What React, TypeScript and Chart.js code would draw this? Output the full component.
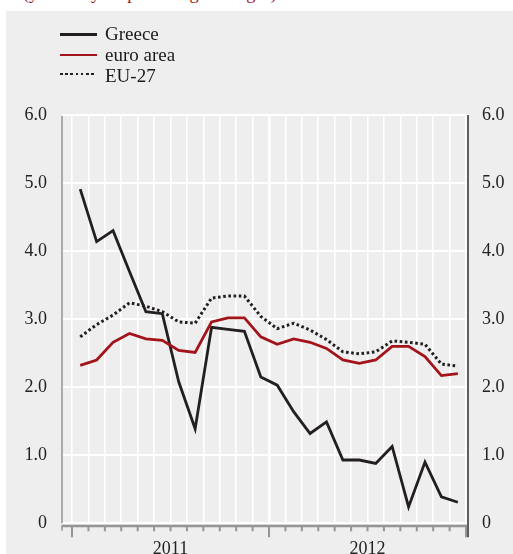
import React, { useEffect, useRef } from 'react';
import { Chart, registerables } from 'chart.js';

Chart.register(...registerables);

// Months Jan 2011 .. Dec 2012
const months = [
  'Jan 2011', 'Feb 2011', 'Mar 2011', 'Apr 2011', 'May 2011', 'Jun 2011',
  'Jul 2011', 'Aug 2011', 'Sep 2011', 'Oct 2011', 'Nov 2011', 'Dec 2011',
  'Jan 2012', 'Feb 2012', 'Mar 2012', 'Apr 2012', 'May 2012', 'Jun 2012',
  'Jul 2012', 'Aug 2012', 'Sep 2012', 'Oct 2012', 'Nov 2012', 'Dec 2012',
];
const greece = [
  4.91, 4.14, 4.3, 3.7, 3.11, 3.08, 2.08, 1.39, 2.88, 2.85, 2.82, 2.15,
  2.03, 1.64, 1.32, 1.49, 0.93, 0.93, 0.88, 1.13, 0.24, 0.9, 0.39, 0.31,
];
const euroArea = [
  2.32, 2.4, 2.66, 2.79, 2.71, 2.69, 2.54, 2.51, 2.96, 3.02, 3.02, 2.74,
  2.63, 2.71, 2.66, 2.57, 2.4, 2.35, 2.4, 2.6, 2.6, 2.45, 2.17, 2.2,
];
const eu27 = [
  2.74, 2.92, 3.06, 3.24, 3.19, 3.11, 2.96, 2.94, 3.31, 3.34, 3.34, 3.04,
  2.86, 2.94, 2.84, 2.7, 2.52, 2.49, 2.52, 2.68, 2.66, 2.63, 2.34, 2.31,
];
const years = ['2011', '2012'];
const yMin = 0;
const yMax = 6;

const FONT = '"Liberation Serif", "Times New Roman", serif';
const RED = '#a3141a';
const DARK = '#231f20';

const toPoints = (arr: number[]) => arr.map((v, i) => ({ x: i + 0.5, y: v }));

const yLabel = (v: number) => (v === 0 ? '0' : v.toFixed(1));

const axisDecor = {
  id: 'axisDecor',
  afterDraw(chart: any) {
    const { ctx, chartArea } = chart;
    const xs = chart.scales.x;
    const { left, right, top, bottom } = chartArea;
    ctx.save();
    // left axis
    ctx.strokeStyle = '#ababab';
    ctx.lineWidth = 2;
    ctx.beginPath();
    ctx.moveTo(left, top + 1);
    ctx.lineTo(left, bottom);
    ctx.moveTo(left, bottom + 2);
    ctx.lineTo(left, bottom + 7.5);
    ctx.stroke();
    // x axis line
    ctx.strokeStyle = '#959595';
    ctx.lineWidth = 2.5;
    ctx.beginPath();
    ctx.moveTo(left, bottom + 2.8);
    ctx.lineTo(right - 1, bottom + 2.8);
    ctx.stroke();
    // month ticks
    ctx.lineWidth = 2;
    for (let v = 0; v <= months.length; v++) {
      const px = xs.getPixelForValue(v);
      const long = v % 12 === 0;
      ctx.beginPath();
      ctx.moveTo(px, bottom + 2);
      ctx.lineTo(px, bottom + (long ? 14 : 8));
      ctx.stroke();
    }
    // right axis
    ctx.strokeStyle = '#3a3a3a';
    ctx.lineWidth = 1.6;
    ctx.beginPath();
    ctx.moveTo(right, top);
    ctx.lineTo(right, bottom + 14);
    ctx.stroke();
    ctx.restore();
  },
};

export default function App() {
  const ref = useRef<HTMLCanvasElement | null>(null);

  useEffect(() => {
    if (!ref.current) return;
    const tickValues = Array.from({ length: months.length + 1 }, (_, i) => i);
    const chart = new Chart(ref.current, {
      type: 'line',
      data: {
        datasets: [
          {
            label: 'EU-27',
            data: toPoints(eu27),
            borderColor: DARK,
            borderWidth: 3,
            borderDash: [2.6, 2.6],
            pointRadius: 0,
            tension: 0,
          },
          {
            label: 'euro area',
            data: toPoints(euroArea),
            borderColor: RED,
            borderWidth: 2.8,
            pointRadius: 0,
            tension: 0,
          },
          {
            label: 'Greece',
            data: toPoints(greece),
            borderColor: DARK,
            borderWidth: 2.8,
            pointRadius: 0,
            tension: 0,
          },
        ],
      },
      plugins: [axisDecor],
      options: {
        animation: false,
        responsive: false,
        events: [],
        layout: { padding: { top: 115, left: 0, right: 0, bottom: 0 } },
        plugins: {
          legend: { display: false },
          tooltip: { enabled: false },
          title: { display: false },
        },
        scales: {
          x: {
            type: 'linear',
            min: -0.61,
            max: 24.12,
            afterFit: (s: any) => {
              s.height = 30.7;
            },
            afterBuildTicks: (s: any) => {
              s.ticks = tickValues.map((v) => ({ value: v }));
            },
            grid: {
              color: '#ffffff',
              lineWidth: (c: any) => (c.tick && c.tick.value === 12 ? 2.6 : 1.6),
              drawTicks: false,
            },
            border: { display: false },
            ticks: {
              autoSkip: false,
              maxRotation: 0,
              padding: 15,
              color: '#222',
              font: { family: FONT, size: 18 },
              callback: (v: any) => {
                const n = Number(v);
                if (n % 12 === 6) return years[(n - 6) / 12] ?? '';
                return '';
              },
            },
          },
          y: {
            position: 'left',
            min: yMin,
            max: yMax,
            afterFit: (s: any) => {
              s.width = 62;
            },
            grid: { color: '#ffffff', lineWidth: 2, drawTicks: false },
            border: { display: false },
            ticks: {
              stepSize: 1,
              padding: 15,
              color: '#222',
              font: { family: FONT, size: 18 },
              callback: (v: any) => yLabel(Number(v)),
            },
          },
          y2: {
            position: 'right',
            min: yMin,
            max: yMax,
            afterFit: (s: any) => {
              s.width = 45;
            },
            grid: { display: false, drawTicks: false },
            border: { display: false },
            ticks: {
              stepSize: 1,
              padding: 14,
              color: '#222',
              font: { family: FONT, size: 18 },
              callback: (v: any) => yLabel(Number(v)),
            },
          },
        },
      },
    });
    return () => chart.destroy();
  }, []);

  const legendText: React.CSSProperties = {
    position: 'absolute',
    left: 105,
    fontFamily: FONT,
    fontSize: 19,
    lineHeight: '19px',
    color: '#1a1a1a',
    whiteSpace: 'nowrap',
  };

  return (
    <div style={{ position: 'absolute', left: 0, top: 0, width: 513, height: 554, background: '#fff', overflow: 'hidden' }}>
      <div
        style={{
          position: 'absolute',
          left: 23,
          top: -16.4,
          fontFamily: FONT,
          fontSize: 18.4,
          lineHeight: '19px',
          color: RED,
          whiteSpace: 'nowrap',
        }}
      >
        (year-on-year percentage changes)
      </div>
      <div style={{ position: 'absolute', left: 6, top: 11, width: 507, height: 543, background: '#eeeeee' }} />
      <canvas ref={ref} width={513} height={554} style={{ position: 'absolute', left: 0, top: 0 }} />
      <div style={{ position: 'absolute', left: 60, top: 33, width: 37, height: 2.6, background: DARK }} />
      <div style={{ ...legendText, top: 24 }}>Greece</div>
      <div style={{ position: 'absolute', left: 60, top: 53.7, width: 37, height: 2.6, background: RED }} />
      <div style={{ ...legendText, top: 45 }}>euro area</div>
      <div
        style={{
          position: 'absolute',
          left: 60,
          top: 72.7,
          width: 35,
          height: 2.6,
          background: `repeating-linear-gradient(to right, ${DARK} 0px, ${DARK} 2.6px, transparent 2.6px, transparent 5.2px)`,
        }}
      />
      <div style={{ ...legendText, top: 66 }}>EU-27</div>
    </div>
  );
}
